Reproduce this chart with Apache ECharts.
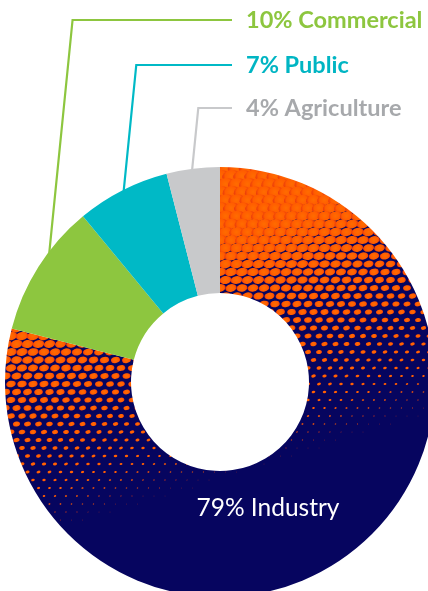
<!DOCTYPE html>
<html>
<head>
<meta charset="utf-8">
<script src="https://cdn.jsdelivr.net/npm/echarts@6/dist/echarts.min.js"></script>
<style>
html,body{margin:0;padding:0;background:#fff;}
#chart{width:428px;height:591px;}
</style>
</head>
<body>
<div id="chart"></div>
<script>
// ---- data ----
const categories = ['Industry', 'Commercial', 'Public', 'Agriculture'];
const values = [79, 10, 7, 4];
const labelTexts = ['79% Industry', '10% Commercial', '7% Public', '4% Agriculture'];

// ---- style ----
const NAVY = '#06055f';
const colors = [null, '#8dc63f', '#00b9c6', '#c8c9cb'];
const textColors = ['#ffffff', '#8dc63f', '#00b5c3', '#a7a9ac'];
const W = 428, H = 591;
const CX = 220, CY = 382, R_IN = 89, R_OUT = 215;
const labelRows = [null, 20, 65, 108];        // label vertical centres (layout)
const anchorFrac = [0.5, 0.63, 0.51, 0.48];   // where leader lines leave each slice
const LABEL_X = 246, LINE_END_X = 232;

// halftone texture for the Industry slice
function makeHalftone() {
  const c = document.createElement('canvas');
  c.width = W; c.height = H;
  const g = c.getContext('2d');
  g.fillStyle = NAVY;
  g.fillRect(0, 0, W, H);
  const ax = 11, ay = 0, bx = 5.5, by = 8;
  for (let j = -10; j < H / by + 10; j++) {
    for (let i = -50; i < W / ax + 50; i++) {
      const px = i * ax + j * bx, py = i * ay + j * by;
      if (px < -12 || px > W + 12 || py < -12 || py > H + 12) continue;
      const u = 0.3 * px + 0.954 * py;
      let s = (535 - u) / 290;
      if (s <= 0.04) continue;
      if (s > 1) s = 1;
      const f = Math.pow(s, 1.05);
      const rx = 8.8 * f, ry = 5.9 * f;
      const grd = g.createRadialGradient(px, py, 0, px, py, rx);
      grd.addColorStop(0, '#ff6c00');
      grd.addColorStop(0.65, '#ff5c00');
      grd.addColorStop(1, '#e8380c');
      g.fillStyle = grd;
      g.beginPath();
      g.ellipse(px, py, rx, ry, -0.2, 0, Math.PI * 2);
      g.fill();
    }
  }
  return c;
}

const chart = echarts.init(document.getElementById('chart'), null, {renderer: 'canvas'});
const halftone = makeHalftone();
const total = values.reduce((a, b) => a + b, 0);

const data = categories.map((name, i) => ({
  name: name,
  value: values[i],
  itemStyle: {
    color: i === 0 ? {image: halftone, repeat: 'no-repeat'} : colors[i],
    borderWidth: 0
  },
  label: {
    show: true,
    position: i === 0 ? 'inside' : 'outside',
    formatter: labelTexts[i],
    color: textColors[i],
    fontFamily: 'Lato',
    fontWeight: i === 0 ? 'normal' : 'bold',
    fontSize: i === 0 ? 24.5 : 23.5
  },
  labelLine: {
    show: i !== 0,
    lineStyle: {color: colors[i] || NAVY, width: 2.2}
  }
}));

chart.setOption({
  animation: false,
  series: [{
    type: 'pie',
    center: [CX, CY],
    radius: [R_IN, R_OUT],
    startAngle: 90,
    clockwise: true,
    avoidLabelOverlap: false,
    emphasis: {disabled: true},
    data: data,
    labelLayout: function (p) {
      const i = p.dataIndex;
      if (i === 0) {
        return {x: 268, y: 508, align: 'center', verticalAlign: 'middle'};
      }
      let acc = 0;
      for (let k = 0; k < i; k++) acc += values[k];
      const ang = (acc + values[i] * anchorFrac[i]) / total * Math.PI * 2;
      const p0 = [CX + (R_OUT - 1) * Math.sin(ang), CY - (R_OUT - 1) * Math.cos(ang)];
      const ly = labelRows[i];
      const p1 = [p0[0] + 0.1 * (p0[1] - ly), ly];
      const p2 = [LINE_END_X, ly];
      return {
        x: LABEL_X, y: ly, align: 'left', verticalAlign: 'middle',
        labelLinePoints: [p0, p1, p2]
      };
    }
  }]
});
</script>
</body>
</html>
